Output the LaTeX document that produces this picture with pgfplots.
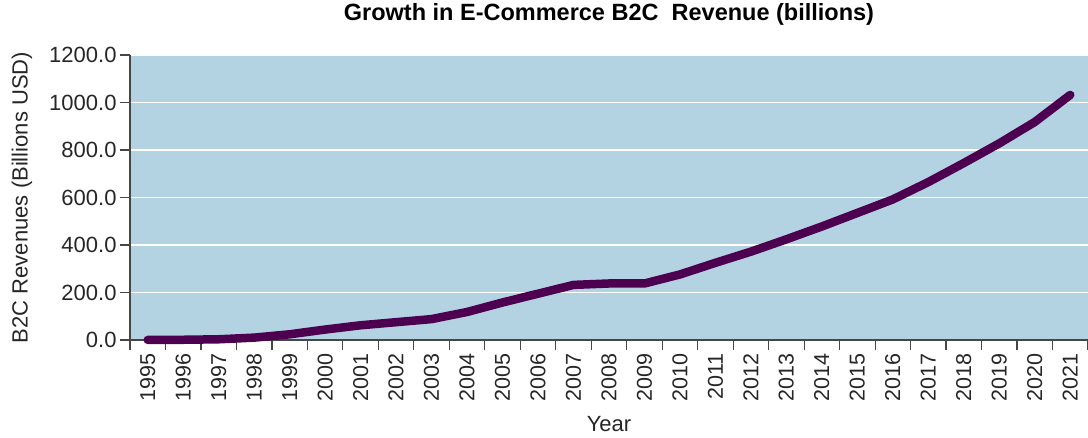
\documentclass[border=0pt]{standalone}
\usepackage{fontspec}
\setmainfont{Liberation Sans}
\usepackage{pgfplots}
\pgfplotsset{compat=1.18}
\definecolor{bgblue}{RGB}{179,211,227}
\definecolor{linepurple}{RGB}{78,0,80}
\definecolor{axgray}{RGB}{70,70,70}
\begin{document}
\begin{tikzpicture}
\path[use as bounding box] (-130pt,-97pt) rectangle (958pt,340pt);
\begin{axis}[
  at={(0pt,0pt)}, anchor=south west,
  scale only axis, width=958pt, height=285pt,
  xmin=1994.5, xmax=2021.5, ymin=0, ymax=1200,
  axis lines*=left,
  axis line style={axgray, line width=1.2pt},
  axis background/.style={fill=bgblue},
  xtick={1995,...,2021},
  minor xtick={1994.5,1995.5,...,2021.5},
  major tick length=10pt,
  minor tick length=10pt,
  major x tick style={draw=none},
  minor x tick style={axgray, line width=1.2pt},
  xticklabel style={rotate=90, anchor=east, font=\fontsize{21.5}{24}\selectfont, text=black!85, yshift=0pt},
  xticklabel={\pgfmathprintnumber[1000 sep={}]{\tick}},
  ytick={0,200,...,1200},
  yticklabel={\pgfmathprintnumber[fixed,fixed zerofill,precision=1,1000 sep={}]{\tick}},
  yticklabel style={font=\fontsize{22}{24}\selectfont, text=black!85},
  y tick style={axgray, line width=1.2pt},
  tick align=outside,
  /pgf/number format/assume math mode=true,
  ymajorgrids,
  grid style={white, line width=1.5pt},
  xlabel={Year},
  xlabel style={font=\fontsize{22}{24}\selectfont, text=black!85, at={(axis description cs:0.5,-0.296)}, anchor=center},
  ylabel={B2C Revenues (Billions USD)},
  ylabel style={font=\fontsize{22}{24}\selectfont, text=black!85, at={(axis description cs:-0.1127,0.5)}, anchor=center, rotate=0},
  title={\textbf{Growth in E-Commerce B2C\ \ Revenue (billions)}},
  title style={font=\fontsize{23.5}{26}\selectfont, at={(axis description cs:0.5,1.123)}, anchor=center},
  clip=false,
]
\addplot[linepurple, line width=8.5pt, line join=round, line cap=round] coordinates {
(1995,0.5) (1996,1) (1997,3) (1998,10) (1999,24) (2000,44) (2001,62) (2002,75)
(2003,88) (2004,118) (2005,158) (2006,195) (2007,232) (2008,238) (2009,238)
(2010,276) (2011,325) (2012,372) (2013,424) (2014,478) (2015,535) (2016,592)
(2017,665) (2018,745) (2019,828) (2020,918) (2021,1032)
};
\end{axis}
\end{tikzpicture}
\end{document}
